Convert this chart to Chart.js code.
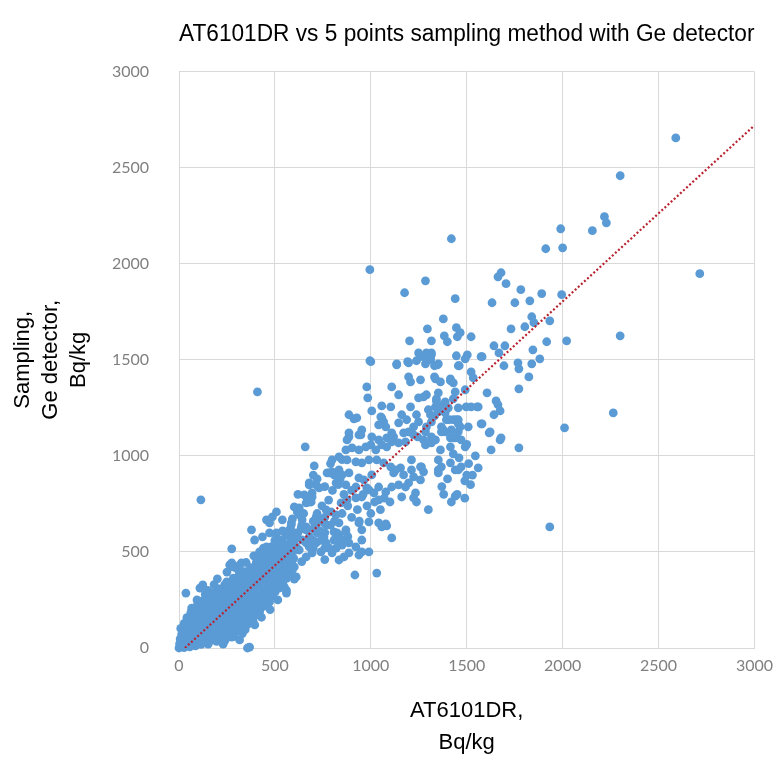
<!DOCTYPE html>
<html>
<head>
<meta charset="utf-8">
<script src="https://cdn.jsdelivr.net/npm/chart.js@4/dist/chart.umd.min.js"></script>
<style>
  html, body { margin: 0; padding: 0; background: #ffffff; }
  #c { display: block; }
</style>
</head>
<body>
<canvas id="c" width="781" height="763"></canvas>
<script>
// ---- chart data ----
const chartTitle = 'AT6101DR vs 5 points sampling method with Ge detector';
const xTitleLines = ['AT6101DR,', 'Bq/kg'];
const yTitleLines = ['Sampling,', 'Ge detector,', 'Bq/kg'];

const axisMin = 0;
const axisMax = 3000;
const axisStep = 500;

// Linear trend line endpoints (AT6101DR, Ge detector)
const trendX = [31, 3000];
const trendY = [0, 2720];

// Measured samples: [AT6101DR Bq/kg, Sampling Ge detector Bq/kg]
const samples = [
  // dense low cluster 0-600
  [0,0],[3,22],[6,48],[12,8],[10,38],[14,72],[9,102],[26,2],[24,27],[28,62],[22,93],[27,128],
  [38,14],[42,47],[39,82],[44,118],[41,158],[56,6],[53,41],[57,77],[55,112],[58,152],
  [68,22],[72,56],[69,96],[73,128],[71,172],[66,208],[86,11],[83,47],[88,86],[84,127],[87,163],
  [98,31],[102,68],[99,112],[103,148],[101,192],[97,228],[116,19],[113,62],[118,99],[114,142],[117,178],[112,216],
  [128,47],[133,83],[129,127],[132,163],[131,207],[127,248],[146,36],[143,77],[148,113],[144,158],[147,202],[142,238],
  [158,56],[163,93],[161,142],[157,178],[162,226],[159,262],[176,42],[173,82],[178,118],[174,167],[177,208],[172,252],[176,288],
  [191,72],[188,108],[193,152],[189,193],[192,242],[187,278],[206,52],[203,97],[208,138],[204,187],[207,228],[202,272],[209,308],
  [221,82],[218,127],[223,168],[219,217],[222,258],[217,302],[236,62],[233,107],[238,148],[234,197],[237,238],[232,287],[238,328],
  [251,92],[248,133],[253,182],[249,223],[252,272],[247,313],[266,72],[263,117],[268,158],[264,207],[267,248],[262,297],[268,338],
  [281,102],[278,147],[283,188],[279,237],[282,278],[277,327],[283,363],[296,87],[293,132],[298,173],[294,222],[297,263],[292,312],[298,348],
  [311,117],[308,162],[313,203],[309,252],[312,293],[307,342],[313,378],[326,102],[323,147],[328,188],[324,237],[327,278],[322,327],[328,368],
  [341,132],[338,177],[343,218],[339,267],[342,308],[337,357],[343,398],[356,122],[353,167],[358,208],[354,257],[357,298],[352,347],[358,388],
  [371,152],[368,197],[373,238],[369,287],[372,328],[367,377],[373,418],[386,142],[383,187],[388,228],[384,277],[387,318],[382,367],[388,408],
  [401,172],[398,217],[403,258],[399,307],[402,348],[397,397],[403,438],[421,192],[418,237],[423,278],[419,327],[422,368],[417,417],[423,458],
  [441,217],[438,262],[443,303],[439,352],[442,393],[437,442],[443,483],[461,242],[458,287],[463,328],[459,377],[462,418],[457,467],
  [481,267],[478,312],[483,353],[479,402],[482,443],[477,492],[483,528],[501,292],[498,337],[503,378],[499,427],[502,468],[497,517],
  [521,312],[518,357],[523,398],[519,447],[522,488],[517,542],[541,332],[538,382],[543,423],[539,472],[542,513],[537,562],
  [561,362],[558,407],[563,448],[559,497],[562,538],[557,592],[581,392],[578,437],[583,478],[579,527],[582,568],[601,422],[598,467],[603,508],[599,557],[602,598],
  [62,185],[94,250],[137,280],[183,330],[152,20],[196,35],[240,40],[285,60],[330,75],[345,95],[395,120],[430,160],[475,200],[515,250],[560,300],
  [150,300],[200,360],[250,395],[300,415],[350,445],[390,480],[440,520],[500,560],[540,610],[585,640],
  // edges and isolated points of the low cluster
  [36,286],[57,146],[109,312],[124,328],[114,771],[124,193],[176,94],[316,42],[368,5],[357,0],[275,57],[301,109],[332,146],[368,182],
  [404,224],[446,234],[472,240],[487,286],[513,339],[549,318],[560,286],[601,359],[250,60],[230,20],[290,90],
  [264,432],[280,422],[316,432],[275,443],[326,443],[404,448],[316,391],[342,380],[368,391],[404,370],[249,318],[212,286],[332,396],[301,354],[249,344],[275,516],
  [378,615],[394,562],[420,474],[456,510],[487,526],[539,510],[575,484],[435,578],[472,599],[508,578],[539,547],[523,510],[456,526],[420,500],[560,510],
  [591,458],[523,458],[560,406],[513,391],[472,370],[591,406],[611,370],[456,422],[508,458],[420,391],[508,599],[560,589],[591,604],
  [456,667],[472,651],[508,708],[487,682],[539,667],[591,672],[586,651],[575,615],[611,578],[601,536],[627,510],
  // 600-1000
  [642,562],[679,526],[715,547],[694,495],[663,474],[720,599],[756,578],[782,521],[798,495],[611,526],[663,547],[767,547],[819,562],[850,536],
  [886,547],[922,526],[953,562],[637,625],[663,615],[715,630],[767,641],[808,604],[834,589],[870,604],[642,667],[663,630],[715,682],[731,667],
  [756,651],[767,719],[793,708],[819,693],[845,755],[876,771],[922,781],[953,786],[601,734],[617,719],[627,693],[627,729],[617,708],[653,797],
  [694,807],[689,760],[663,755],[731,833],[694,786],[668,781],[679,760],[679,849],[715,849],[772,911],[808,901],[834,927],[782,911],[705,948],
  [658,1047],[679,859],[834,651],[870,615],[938,651],[953,615],[824,599],[850,562],[808,562],[860,474],[886,495],[938,484],[953,500],[834,458],
  [990,500],[1109,573],[917,380],[1031,390],[740,560],[760,600],[700,620],[720,700],[745,740],[780,770],[800,820],[830,850],[650,700],[700,660],
  [760,680],[620,600],[640,640],[680,580],[700,560],[740,500],[760,520],[790,640],[810,660],[850,700],[880,740],[900,820],[860,800],[840,880],
  [990,656],[1041,651],[1078,646],[1057,630],[1083,636],[900,680],[930,720],[960,800],[980,740],[1000,700],[1020,760],[940,660],[1050,720],[1070,780],[1100,760],
  [640,450],[700,520],[760,460],[820,520],[880,580],[720,880],[760,840],[620,800],[700,900],[790,960],[850,980],[650,620],[735,610],
  // 800-1500 middle band
  [990,823],[1016,807],[1041,771],[1078,812],[1109,838],[1145,849],[1181,838],[1161,786],[1233,807],[1223,781],[1238,760],[1264,943],[1275,917],
  [1352,911],[1368,943],[798,979],[834,995],[876,979],[922,969],[953,964],[990,979],[1031,979],[1067,964],[1104,943],[1130,927],[1155,938],
  [1212,979],[1212,927],[1259,943],[1352,979],[1415,964],[1471,943],[1223,891],[1259,875],[1197,859],[1171,901],[1119,911],[798,917],[850,901],
  [886,911],[938,885],[964,875],[1005,901],[819,859],[870,849],[922,838],[979,833],[1041,838],[1352,927],[1440,927],[870,1031],[902,1042],
  [938,1031],[974,1047],[1000,1057],[1026,1031],[1057,1057],[1083,1047],[1109,1073],[1145,1068],[1181,1073],[953,1135],[938,1109],[886,1099],
  [876,1083],[1005,1099],[1041,1083],[1083,1094],[1119,1099],[1197,1125],[1223,1109],[1244,1099],[1285,1125],[1316,1099],[1337,1083],[1300,1068],
  [1388,1125],[1430,1094],[1456,1125],[1471,1083],[1300,1240],[1311,1214],[1332,1208],[1352,1229],[1388,1224],[1409,1188],[1430,1188],[1456,1167],
  [886,1214],[912,1193],[927,1198],[1052,1203],[1067,1177],[1078,1151],[1041,1161],[1057,1198],[1161,1214],[1187,1188],[1145,1172],[1238,1214],
  [1249,1177],[1223,1151],[1290,1151],[1316,1177],[1394,1188],[1456,1188],[1575,1167],[1622,1125],[1679,1094],[886,1120],[948,1109],[1109,1120],
  [1171,1120],[1368,1151],[1446,1099],[1363,1031],[1415,1047],[1440,1094],[1378,1135],[1420,1135],[1316,1068],[1275,1083],[1285,1057],
  [1446,1188],[1466,1151],[1492,1047],[1508,1151],[1368,1125],[1415,1094],
  [1420,760],[1440,790],[1380,800],[1490,780],[1520,850],[1500,900],[1456,927],[1370,840],[1450,800],[1400,880],[1490,870],[1530,900],
  [1510,960],[1460,990],[1545,1000],[1430,1010],[1500,1060],[1300,720],
  // upper part of the band
  [1000,1490],[1135,1479],[1197,1484],[1238,1495],[1285,1479],[1332,1469],[1352,1479],[1456,1469],[979,1359],[984,1302],[1109,1359],[1145,1318],
  [1249,1302],[1275,1307],[1290,1318],[1207,1255],[1057,1260],[1104,1255],[1005,1234],[1342,1286],[1363,1260],[1337,1255],[1404,1250],[1456,1250],
  [1497,1255],[1523,1255],[1554,1255],[1352,1328],[1342,1297],[1388,1281],[1430,1297],[1440,1333],[1492,1344],[1197,1411],[1207,1385],[1259,1396],
  [1337,1401],[1363,1385],[1415,1391],[1430,1380],[1523,1437],[1534,1406],[995,1495],[1135,1474],[1192,1490],[1259,1516],[1290,1536],[1311,1505],
  [1316,1526],[1347,1474],
  [1420,2130],[1285,1911],[1440,1818],[1378,1713],[1295,1661],[1446,1667],[1466,1641],[1451,1620],[1316,1599],[1383,1625],[1399,1594],[1523,1620],
  [1280,1516],[1316,1536],[1311,1500],[1446,1521],[1503,1526],[1492,1505],[1575,1516],[1461,1469],[1249,1536],[1332,1411],[1415,1401],
  [1176,1849],[1202,1599],[995,1969],[409,1333],
  // 1550-2000
  [1679,1953],[1663,1932],[1705,1896],[1782,1865],[1632,1797],[1751,1797],[1829,1807],[1839,1724],[1850,1693],[1933,1703],[1731,1661],[1803,1672],
  [2021,1599],[1917,1594],[2300,1625],[1642,1573],[1699,1573],[1845,1552],[1668,1536],[1580,1516],[1881,1505],[1767,1484],[1694,1469],[1772,1453],
  [1839,1479],[1824,1411],[1772,1349],[1606,1328],[1560,1255],[1653,1286],[1663,1266],[1674,1234],[1642,1214],[1580,1167],[1617,1120],[1674,1083],
  [1627,1031],[1772,1042],[2010,1146],[2264,1224],[1560,938],[1933,630],
  // highest values
  [2590,2655],[2300,2458],[2218,2245],[2228,2213],[2155,2172],[1990,2182],[1912,2078],[2000,2083],[2715,1948],[1891,1844],[1995,1839]
];

// ---- chart ----
const baseFont = 'Liberation Sans, Arial, sans-serif';
const tickFont = 'Lato, Liberation Sans, sans-serif';
const plainTick = v => String(v);

new Chart(document.getElementById('c'), {
  type: 'scatter',
  data: {
    datasets: [
      {
        type: 'line',
        label: 'Trend',
        data: trendX.map((x, i) => ({ x: x, y: trendY[i] })),
        borderColor: '#b8232f',
        borderWidth: 2.2,
        borderDash: [2, 2.2],
        pointRadius: 0,
        fill: false,
        tension: 0,
        order: 0
      },
      {
        label: 'Samples',
        data: samples.map(p => ({ x: p[0], y: p[1] })),
        backgroundColor: '#5b9bd5',
        borderWidth: 0,
        pointRadius: 4.4,
        pointHoverRadius: 4.4,
        clip: false,
        order: 1
      }
    ]
  },
  options: {
    responsive: false,
    animation: false,
    layout: { padding: { top: 0, right: 20, bottom: 0, left: 0 } },
    plugins: {
      legend: { display: false },
      tooltip: { enabled: false },
      title: {
        display: true,
        fullSize: false,
        text: chartTitle,
        color: '#000000',
        font: { family: baseFont, size: 23, weight: 'normal' },
        padding: { top: 21, bottom: 23 }
      }
    },
    scales: {
      x: {
        type: 'linear',
        min: axisMin,
        max: axisMax,
        ticks: { stepSize: axisStep, padding: 8, color: '#808080', font: { family: tickFont, size: 16 }, callback: plainTick },
        grid: { color: '#d9d9d9', lineWidth: 1, drawTicks: false },
        border: { color: '#d9d9d9' },
        title: {
          display: true,
          text: xTitleLines,
          color: '#000000',
          font: { family: baseFont, size: 22, weight: 'normal', lineHeight: 1.45 },
          padding: { top: 0, bottom: 4 }
        },
        afterFit: function (s) { s.height = 115; }
      },
      y: {
        type: 'linear',
        min: axisMin,
        max: axisMax,
        ticks: { stepSize: axisStep, padding: 30, color: '#808080', font: { family: tickFont, size: 16 }, callback: plainTick },
        grid: { color: '#d9d9d9', lineWidth: 1, drawTicks: false },
        border: { color: '#d9d9d9' },
        title: {
          display: true,
          text: yTitleLines,
          color: '#000000',
          font: { family: baseFont, size: 22, weight: 'normal', lineHeight: 1.27 },
          padding: { top: 9, bottom: 0 }
        },
        afterFit: function (s) { s.width = 179; }
      }
    }
  }
});
</script>
</body>
</html>
